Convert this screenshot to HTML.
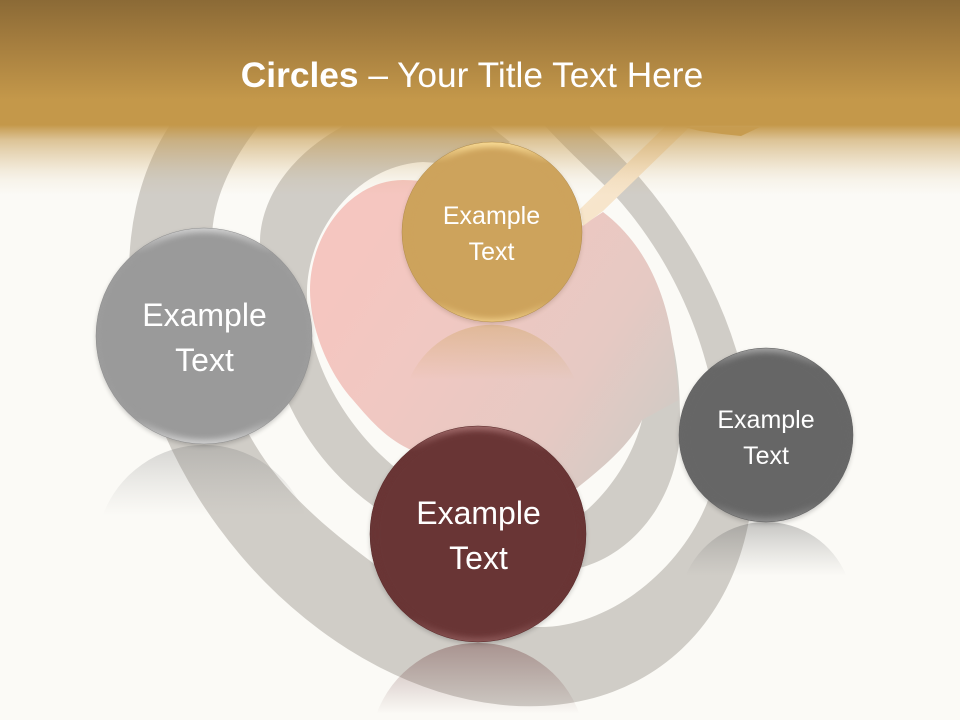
<!DOCTYPE html>
<html><head><meta charset="utf-8"><title>Circles</title>
<style>
html,body{margin:0;padding:0;background:#fbfaf6;width:960px;height:720px;overflow:hidden}
svg{display:block}
text{font-family:"Liberation Sans",sans-serif;fill:#fff;text-anchor:middle}
</style></head><body>
<svg width="960" height="720" viewBox="0 0 960 720" xmlns="http://www.w3.org/2000/svg">
<defs>
<linearGradient id="hdr" x1="0" y1="0" x2="0" y2="125" gradientUnits="userSpaceOnUse">
<stop offset="0" stop-color="#8b6a36"/><stop offset=".32" stop-color="#a37c3e"/><stop offset=".8" stop-color="#c4984a"/><stop offset="1" stop-color="#c4984a"/>
</linearGradient>
<linearGradient id="fade" x1="0" y1="125" x2="0" y2="195" gradientUnits="userSpaceOnUse">
<stop offset="0" stop-color="#c4984a" stop-opacity="1"/><stop offset=".043" stop-color="#c4984a" stop-opacity=".9"/><stop offset=".214" stop-color="#c4984a" stop-opacity=".56"/><stop offset=".357" stop-color="#c4984a" stop-opacity=".41"/><stop offset=".5" stop-color="#c4984a" stop-opacity=".28"/><stop offset=".643" stop-color="#c4984a" stop-opacity=".16"/><stop offset=".786" stop-color="#c4984a" stop-opacity=".07"/><stop offset="1" stop-color="#c4984a" stop-opacity="0"/>
</linearGradient>
<linearGradient id="heart" x1="350" y1="270" x2="650" y2="470" gradientUnits="userSpaceOnUse">
<stop offset="0" stop-color="#f5c6c0"/><stop offset=".3" stop-color="#f0c8c2"/><stop offset=".7" stop-color="#e6c9c3"/><stop offset=".92" stop-color="#d6cac4"/><stop offset="1" stop-color="#cfcbc5"/>
</linearGradient>
<linearGradient id="stick" x1="0" y1="0" x2="1" y2="1" gradientUnits="objectBoundingBox">
<stop offset="0" stop-color="#f8e8d0"/><stop offset="1" stop-color="#f6e2c6"/>
</linearGradient>
<linearGradient id="rG" x1="0" y1="445" x2="0" y2="516" gradientUnits="userSpaceOnUse"><stop offset="0" stop-color="#777" stop-opacity=".29"/><stop offset="1" stop-color="#999" stop-opacity="0"/></linearGradient>
<linearGradient id="rD" x1="0" y1="522" x2="0" y2="576" gradientUnits="userSpaceOnUse"><stop offset="0" stop-color="#555" stop-opacity=".32"/><stop offset="1" stop-color="#777" stop-opacity="0"/></linearGradient>
<linearGradient id="rM" x1="0" y1="643" x2="0" y2="714" gradientUnits="userSpaceOnUse"><stop offset="0" stop-color="#693535" stop-opacity=".38"/><stop offset="1" stop-color="#693535" stop-opacity="0"/></linearGradient>
<linearGradient id="rO" x1="0" y1="324" x2="0" y2="380" gradientUnits="userSpaceOnUse"><stop offset="0" stop-color="#cda35c" stop-opacity=".42"/><stop offset="1" stop-color="#cda35c" stop-opacity="0"/></linearGradient>
<linearGradient id="bG" x1="0" y1="0" x2="0" y2="1"><stop offset="0" stop-color="#cecece"/><stop offset=".12" stop-color="#9c9c9c"/><stop offset=".88" stop-color="#9c9c9c"/><stop offset="1" stop-color="#cfcfcf"/></linearGradient>
<linearGradient id="bD" x1="0" y1="0" x2="0" y2="1"><stop offset="0" stop-color="#a0a0a0"/><stop offset=".12" stop-color="#676767"/><stop offset=".88" stop-color="#676767"/><stop offset="1" stop-color="#8c8c8c"/></linearGradient>
<linearGradient id="bM" x1="0" y1="0" x2="0" y2="1"><stop offset="0" stop-color="#a06a6a"/><stop offset=".12" stop-color="#693535"/><stop offset=".88" stop-color="#693535"/><stop offset="1" stop-color="#8a5555"/></linearGradient>
<linearGradient id="bO" x1="0" y1="0" x2="0" y2="1"><stop offset="0" stop-color="#f8da94"/><stop offset=".12" stop-color="#cda35c"/><stop offset=".88" stop-color="#cda35c"/><stop offset="1" stop-color="#edca84"/></linearGradient>
<filter id="b4" x="-20%" y="-20%" width="140%" height="140%"><feGaussianBlur stdDeviation="3"/></filter>
<filter id="sh" x="-20%" y="-20%" width="140%" height="140%"><feGaussianBlur stdDeviation="2.5"/></filter>
<clipPath id="ccG"><circle cx="204" cy="336" r="108"/></clipPath>
<clipPath id="ccD"><circle cx="766" cy="435" r="87"/></clipPath>
<clipPath id="ccM"><circle cx="478" cy="534" r="108"/></clipPath>
<clipPath id="ccO"><circle cx="492" cy="232" r="90"/></clipPath>
</defs>
<rect width="960" height="720" fill="#fbfaf6"/>
<!-- outer band -->
<path fill="#d0cdc7" d="M590 128A370 274 52.800 1 1 168 128L257 128C232 160 212 200 212 240C205 420 275 490 373 563C420 600 480 627 540 627C610 627 680 570 707 503C722 460 722 420 708 370C690 300 655 240 617 198C595 175 570 153 547 128L530 110L590 110Z"/>
<path fill="#d0cdc7" d="M168 128L180 110L270 110L257 128Z"/>
<!-- inner band -->
<path fill="#d0cdc7" d="M340 128C300 150 262 190 260 240C255 350 290 445 372 505C440 555 520 585 583 567C640 550 682 490 680 420C680 390 678 365 672 340L642 420C635 450 615 485 587 510C540 545 450 510 392 465C345 425 305 360 307 290C309 225 360 165 423 162L470 165L510 142L480 118L360 112Z"/>
<!-- heart -->
<path fill="url(#heart)" d="M403 180C350 180 310 235 310 290C310 330 330 375 353 400C370 420 385 437 407 448L450 470L577 488C600 470 630 445 642 420L679 400L673 345C665 285 640 240 603 212L560 240L490 230L440 184Q420 180 403 180Z"/>
<!-- stick -->
<path fill="url(#stick)" d="M580 209L677 115L702 115L603 211L583 226Z"/>
<!-- header -->
<rect x="0" y="0" width="960" height="125" fill="url(#hdr)"/>
<rect x="0" y="125" width="960" height="70" fill="url(#fade)"/>
<path fill="#c79c50" d="M684 127L760 127L741 136L722 134L700 131Z"/>
<!-- reflections -->
<path fill="url(#rG)" d="M102.500 516A108 108 0 0 1 305.500 516Z"/>
<path fill="url(#rD)" d="M685.500 576A87 87 0 0 1 846.500 576Z"/>
<path fill="url(#rM)" d="M376.500 714A108 108 0 0 1 579.500 714Z"/>
<path fill="url(#rO)" d="M409 380A90 90 0 0 1 575 380Z"/>
<!-- grey circle -->
<circle cx="204" cy="338" r="108" fill="#000" opacity=".2" filter="url(#sh)"/>
<circle cx="204" cy="336" r="108" fill="url(#bG)" stroke="#8e8e8e" stroke-width=".5"/>
<g clip-path="url(#ccG)"><circle cx="204" cy="336" r="103" fill="#9a9a9a" filter="url(#b4)"/></g>
<text x="204.500" y="326" font-size="32">Example</text>
<text x="204.500" y="371" font-size="32">Text</text>
<!-- gold circle -->
<circle cx="492" cy="234" r="90" fill="#5a4020" opacity=".22" filter="url(#sh)"/>
<circle cx="492" cy="232" r="90" fill="url(#bO)" stroke="#b08c4c" stroke-width=".5"/>
<g clip-path="url(#ccO)"><circle cx="492" cy="233" r="85" fill="#cda35c" filter="url(#b4)"/></g>
<text x="491.500" y="224" font-size="25">Example</text>
<text x="491.500" y="260" font-size="25">Text</text>
<!-- dark circle -->
<circle cx="766" cy="437" r="87" fill="#000" opacity=".2" filter="url(#sh)"/>
<circle cx="766" cy="435" r="87" fill="url(#bD)" stroke="#606060" stroke-width=".5"/>
<g clip-path="url(#ccD)"><circle cx="766" cy="435" r="82" fill="#666" filter="url(#b4)"/></g>
<text x="766" y="428" font-size="25">Example</text>
<text x="766" y="464" font-size="25">Text</text>
<!-- maroon circle -->
<circle cx="478" cy="536" r="108" fill="#000" opacity=".2" filter="url(#sh)"/>
<circle cx="478" cy="534" r="108" fill="url(#bM)" stroke="#5a2c2c" stroke-width=".5"/>
<g clip-path="url(#ccM)"><circle cx="478" cy="534" r="103" fill="#693535" filter="url(#b4)"/></g>
<text x="478.500" y="524" font-size="32">Example</text>
<text x="478.500" y="569" font-size="32">Text</text>
<!-- title -->
<text x="472" y="87" font-size="35.300"><tspan font-weight="bold">Circles</tspan> – Your Title Text Here</text>
</svg>
</body></html>
